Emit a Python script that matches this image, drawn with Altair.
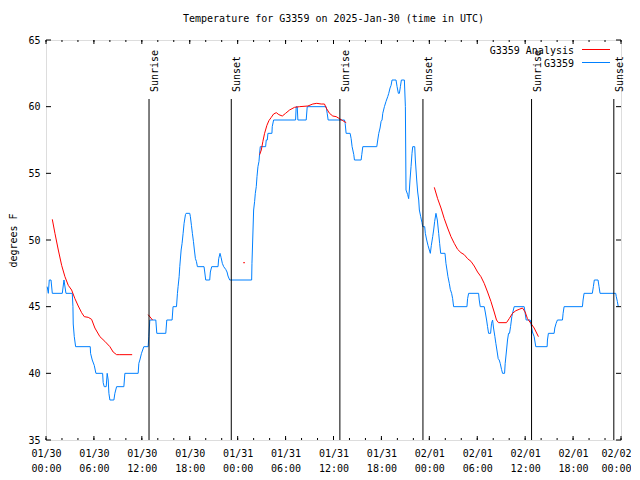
import json
import altair as alt
import pandas as pd

# ---------------- data ----------------
# hours since 2025-01-30 00:00 UTC
obs_h = [0.15, 0.29, 0.41, 0.63, 0.79, 2.04, 2.25, 2.5, 3.29, 3.375, 3.41, 3.54, 3.71, 5.54, 5.58, 5.79, 6.04, 6.25,
         7.09, 7.16, 7.29, 7.54, 7.66, 7.79, 7.875, 8.0, 8.5, 8.625, 8.84, 9.75, 9.875, 11.54, 11.625, 11.75, 11.96,
         12.25, 12.79, 12.875, 13.0, 13.75, 13.875, 15.0, 15.125, 15.79, 15.91, 16.34, 16.46, 16.54, 16.67, 16.75,
         16.92, 17.04, 17.17, 17.29, 17.46, 17.54, 18.0, 18.08, 18.21, 18.33, 18.46, 18.58, 18.71, 18.83, 18.96,
         19.79, 19.875, 20.0, 20.5, 20.58, 20.75, 21.54, 21.625, 21.79, 21.92, 22.08, 22.25, 22.5, 22.67, 22.79,
         23.0, 25.75, 25.79, 25.92, 26.0, 26.125, 26.21, 26.33, 26.42, 26.54, 26.67, 26.75, 26.83, 27.5, 27.58,
         27.71, 27.79, 28.29, 28.33, 28.5, 31.25, 31.33, 31.46, 31.54, 32.58, 32.71, 35.08, 35.21, 35.33, 37.375,
         37.46, 37.58, 38.08, 38.21, 38.33, 38.42, 38.54, 38.625, 39.46, 39.54, 39.67, 41.42, 41.54, 41.67, 41.83,
         41.96, 42.08, 42.17, 42.375, 42.58, 42.79, 42.92, 43.08, 43.21, 43.33, 43.83, 43.96, 44.125, 44.25,
         44.375, 44.5, 44.875, 45.0, 45.08, 45.29, 45.41, 45.5, 45.58, 45.71, 45.83, 45.92, 46.17, 46.25, 46.42,
         46.54, 46.67, 46.75, 46.92, 47.08, 47.17, 47.42, 47.5, 47.67, 47.83, 48.0, 48.125, 48.25, 48.42, 48.54,
         48.67, 48.83, 49.0, 49.17, 49.29, 49.42, 49.96, 50.08, 50.21, 50.33, 50.5, 50.625, 50.79, 50.92, 51.04,
         52.71, 52.79, 52.92, 54.17, 54.25, 54.375, 54.875, 55.0, 55.17, 55.29, 55.42, 55.67, 55.79, 55.92, 56.04,
         56.21, 56.33, 56.46, 56.625, 56.75, 56.875, 57.04, 57.17, 57.42, 57.5, 57.67, 57.79, 57.92, 58.04, 58.17,
         58.33, 58.46, 58.625, 59.875, 60.0, 60.125, 60.625, 60.71, 60.91, 61.125, 61.33, 62.75, 62.79, 62.91,
         63.625, 63.71, 63.875, 64.04, 64.67, 64.75, 64.875, 67.17, 67.25, 67.375, 68.41, 68.54, 68.66, 69.125,
         69.25, 69.375, 71.34, 71.41, 71.54, 71.66]
obs_t = [46.5, 46.0, 47.0, 47.0, 46.0, 46.0, 47.0, 46.0, 46.0, 45.0, 43.7, 42.75, 42.0, 42.0, 41.5, 41.0, 40.6, 40.0,
         40.0, 39.3, 39.0, 39.0, 40.0, 39.5, 38.5, 38.0, 38.0, 38.5, 39.0, 39.0, 40.0, 40.0, 40.75, 41.0, 41.5,
         42.0, 42.0, 42.75, 44.0, 44.0, 43.0, 43.0, 44.0, 44.0, 45.0, 45.0, 46.0, 46.5, 47.25, 48.0,
         49.25, 49.75, 50.5, 51.25, 51.9, 52.0, 52.0, 51.75, 51.1, 50.5, 49.9, 49.25, 48.6, 48.4, 48.0,
         48.0, 47.6, 47.0, 47.0, 47.6, 48.0, 48.0, 48.6, 49.0, 48.7, 48.25, 48.0, 47.8, 47.6, 47.3,
         47.0, 47.0, 48.25, 50.75, 52.25, 52.9, 53.5, 54.0, 54.75, 55.5, 55.9, 56.5, 57.0, 57.0, 57.5,
         57.5, 58.0, 58.0, 58.5, 59.0, 59.0, 60.0, 60.0, 59.0, 59.0, 60.0, 60.0, 59.5, 59.0, 59.0,
         58.75, 58.0, 58.0, 57.6, 57.0, 56.75, 56.4, 56.0, 56.0, 56.4, 57.0, 57.0, 57.5, 58.0, 58.4,
         58.9, 59.0, 59.5, 60.0, 60.4, 60.75, 61.0, 61.4, 61.6, 62.0, 62.0, 61.5, 61.0, 61.0,
         61.5, 62.0, 62.0, 60.0, 53.75, 53.4, 53.1, 53.75, 54.5, 55.5, 56.5, 57.0, 57.0, 56.0, 54.5,
         53.6, 53.0, 52.25, 51.75, 51.3, 51.0, 51.0, 50.5, 50.0, 49.6, 49.25, 49.0, 49.6, 50.25, 50.75,
         51.4, 52.0, 51.5, 50.5, 49.75, 49.0, 49.0, 48.25, 47.75, 47.25, 46.75, 46.3, 46.0, 45.6, 45.0,
         45.0, 45.6, 46.0, 46.0, 45.5, 45.0, 45.0, 44.6, 44.0, 43.5, 43.0, 43.0, 43.75, 44.0, 43.4,
         42.75, 42.25, 41.75, 41.1, 41.0, 40.75, 40.3, 40.0, 40.0, 40.75, 41.75, 42.5, 43.0, 43.0, 43.5,
         44.25, 44.6, 45.0, 45.0, 44.5, 44.0, 44.0, 43.75, 43.1, 42.75, 42.0, 42.0, 42.5, 43.0,
         43.0, 43.4, 43.75, 44.0, 44.0, 44.5, 45.0, 45.0, 45.5, 46.0, 46.0, 46.5, 47.0, 47.0,
         46.5, 46.0, 46.0, 45.75, 45.4, 45.0]

ana_h = [0.79, 1.12, 1.54, 1.96, 2.37, 2.79, 3.21, 3.62, 4.04, 4.46, 4.79, 5.29, 5.71, 6.12, 6.75, 7.37, 8.0,
         8.41, 8.84, 9.25, 10.79,
         12.79, 13.34,
         26.75, 26.96, 27.16, 27.37, 27.66, 27.91, 28.21, 28.5, 28.84, 29.16, 29.59, 30.0, 30.5, 31.12, 31.75,
         32.79, 33.41, 33.91, 34.46, 34.87, 35.09, 35.5, 35.91, 36.34, 36.75, 37.16, 37.59,
         48.62, 49.04, 49.46, 49.87, 50.29, 50.71, 51.12, 51.54, 51.96, 52.37, 52.79, 53.21, 53.62, 54.04,
         54.46, 54.87, 55.29, 55.71, 56.12, 56.41, 56.66, 57.66, 58.0, 58.41, 58.84, 59.25, 59.66, 60.0, 60.29,
         60.71, 61.125, 61.66]
ana_t = [51.55, 50.5, 49.25, 48.1, 47.25, 46.6, 46.25, 45.6, 45.05, 44.55, 44.25, 44.2, 44.05, 43.4, 42.75, 42.4,
         42.0, 41.6, 41.4, 41.4, 41.4,
         44.4, 44.0,
         56.4, 56.75, 57.4, 58.0, 58.6, 58.95, 59.2, 59.45, 59.55, 59.4, 59.3, 59.5, 59.75, 59.95, 60.0,
         60.05, 60.2, 60.25, 60.2, 60.2, 59.9, 59.5, 59.3, 59.25, 59.1, 58.95, 58.8,
         53.95, 53.1, 52.4, 51.6, 50.9, 50.25, 49.75, 49.3, 49.05, 48.9, 48.6, 48.4, 48.05, 47.6,
         47.25, 46.75, 46.1, 45.4, 44.6, 44.0, 43.8, 43.8, 44.1, 44.5, 44.7, 44.8, 44.9, 44.6, 44.1,
         43.75, 43.4, 42.75]
ana_seg = [1] * 21 + [2] * 2 + [3] * 27 + [4] * 32
ana_dot_h = [24.8]
ana_dot_t = [48.3]

sun_h = [12.9, 23.2, 36.8, 47.2, 60.8, 71.1]
sun_label = ["Sunrise", "Sunset", "Sunrise", "Sunset", "Sunrise", "Sunset"]

x_tick_hours = list(range(0, 73, 6))
x_tick_day = ["01/30"] * 4 + ["01/31"] * 4 + ["02/01"] * 4 + ["02/02"]
x_tick_time = ["00:00", "06:00", "12:00", "18:00"] * 3 + ["00:00"]
x_minor_hours = list(range(0, 73, 2))
y_tick_values = [35, 40, 45, 50, 55, 60, 65]

series_names = ["G3359 Analysis", "G3359"]
series_colors = ["#ff0000", "#0080ff"]

FONT = "DejaVu Sans Mono"
W, H = 575, 400

obs = pd.DataFrame({"h": obs_h, "t": obs_t})
ana = pd.DataFrame({"h": ana_h, "t": ana_t, "seg": ana_seg})
dot = pd.DataFrame({"h": ana_dot_h, "t": ana_dot_t})
sun = pd.DataFrame({"h": sun_h, "label": sun_label})
xmaj = pd.DataFrame({"h": x_tick_hours})
xmin = pd.DataFrame({"h": x_minor_hours})
ytk = pd.DataFrame({"t": y_tick_values})

label_expr = "[{d}[round(datum.value/6)], {t}[round(datum.value/6)]]".format(
    d=json.dumps(x_tick_day), t=json.dumps(x_tick_time))

xscale = alt.Scale(domain=[0, 72], nice=False, zero=False)
yscale = alt.Scale(domain=[35, 65], nice=False, zero=False)

x_axis = alt.Axis(values=x_tick_hours, labelExpr=label_expr, ticks=False, domain=False, grid=False,
                  labelFont=FONT, labelFontSize=10, labelColor="black", labelFlush=False,
                  labelAlign={"condition": {"test": "datum.value >= 72", "value": "right"}, "value": "center"},
                  labelOffset={"condition": {"test": "datum.value >= 72", "value": 10}, "value": 0},
                  labelOverlap=False, labelPadding=8, labelLineHeight=15, labelBaseline="top", title=None)
y_axis = alt.Axis(values=y_tick_values, ticks=False, domain=False, grid=False, labelFont=FONT,
                  labelFontSize=10, labelColor="black", labelPadding=6, title="degrees F",
                  titleFont=FONT, titleFontSize=10, titleFontWeight="normal", titleColor="black",
                  titlePadding=9)

X = alt.X("h:Q", scale=xscale, axis=x_axis)
Y = alt.Y("t:Q", scale=yscale, axis=y_axis)

obs_line = alt.Chart(obs).mark_line(color=series_colors[1], strokeWidth=1).encode(x=X, y=Y)
ana_line = alt.Chart(ana).mark_line(color=series_colors[0], strokeWidth=1).encode(x=X, y=Y, detail="seg:N")
ana_dot = alt.Chart(dot).mark_square(color=series_colors[0], size=2, opacity=1).encode(x=X, y=Y)

sun_rule = alt.Chart(sun).mark_rule(color="black", strokeWidth=1).encode(
    x=X, y=alt.value(59), y2=alt.value(H))
sun_text = alt.Chart(sun).mark_text(angle=270, align="left", baseline="top", font=FONT, fontSize=10,
                                    color="black", dy=1).encode(x=X, y=alt.value(52), text="label:N")

# inward ticks (gnuplot style)
tb_maj = alt.Chart(xmaj).mark_rule(color="black").encode(x=X, y=alt.value(H), y2=alt.value(H - 4))
tt_maj = alt.Chart(xmaj).mark_rule(color="black").encode(x=X, y=alt.value(0), y2=alt.value(4))
tb_min = alt.Chart(xmin).mark_rule(color="black").encode(x=X, y=alt.value(H), y2=alt.value(H - 2))
tt_min = alt.Chart(xmin).mark_rule(color="black").encode(x=X, y=alt.value(0), y2=alt.value(2))
tl = alt.Chart(ytk).mark_rule(color="black").encode(y=Y, x=alt.value(0), x2=alt.value(5))
tr = alt.Chart(ytk).mark_rule(color="black").encode(y=Y, x=alt.value(W), x2=alt.value(W - 5))

# legend (gnuplot style: text then sample line)
leg_t1 = alt.Chart(pd.DataFrame({"n": [series_names[0]]})).mark_text(
    align="right", baseline="middle", font=FONT, fontSize=10, color="black").encode(
    x=alt.value(528), y=alt.value(10.5), text="n:N")
leg_t2 = alt.Chart(pd.DataFrame({"n": [series_names[1]]})).mark_text(
    align="right", baseline="middle", font=FONT, fontSize=10, color="black").encode(
    x=alt.value(528), y=alt.value(23.5), text="n:N")
leg_l1 = alt.Chart(pd.DataFrame({"n": [series_names[0]]})).mark_rule(color=series_colors[0]).encode(
    x=alt.value(536), x2=alt.value(564), y=alt.value(9.5))
leg_l2 = alt.Chart(pd.DataFrame({"n": [series_names[1]]})).mark_rule(color=series_colors[1]).encode(
    x=alt.value(536), x2=alt.value(564), y=alt.value(22.5))

chart = alt.layer(
    obs_line, ana_line, ana_dot, sun_rule, sun_text,
    tb_maj, tt_maj, tb_min, tt_min, tl, tr,
    leg_t1, leg_t2, leg_l1, leg_l2,
).properties(
    width=W, height=H,
    title=alt.TitleParams("Temperature for G3359 on 2025-Jan-30 (time in UTC)", font=FONT, fontSize=10,
                          fontWeight="normal", color="black", anchor="middle", offset=11),
    autosize=alt.AutoSizeParams(type="none"),
    padding={"left": 38, "top": 32, "right": 10, "bottom": 38},
).configure_view(stroke="black", strokeWidth=1).configure(background="white")

chart.save("out.html", embed_options={"renderer": "svg", "actions": False})
